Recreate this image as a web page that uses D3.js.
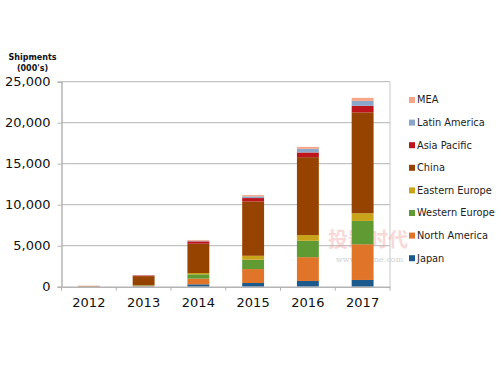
<!DOCTYPE html>
<html><head><meta charset="utf-8">
<script src="https://cdn.jsdelivr.net/npm/d3@7"></script>
<style>body{margin:0;background:#fff}svg{display:block}</style>
</head><body><svg id="c" width="500" height="375"></svg>
<script>
const years = ["2012","2013","2014","2015","2016","2017"];
const regions = ["Japan","North America","Western Europe","Eastern Europe","China","Asia Pacific","Latin America","MEA"];
const colors = ["#1c5a8e","#e0752a","#5f9a33","#c9a31a","#974300","#be141c","#8aa6c8","#f6a586"];
const japan         = [0, 40, 290, 450, 700, 820];
const northAmerica  = [60, 60, 690, 1700, 2900, 4350];
const westernEurope = [10, 60, 530, 1140, 2000, 2850];
const easternEurope = [0, 20, 160, 480, 700, 940];
const china         = [20, 1110, 3570, 6630, 9500, 12300];
const asiaPacific   = [10, 80, 290, 410, 570, 800];
const latinAmerica  = [0, 20, 80, 200, 440, 600];
const mea           = [10, 20, 90, 160, 240, 370];
const yTicks = [0, 5000, 10000, 15000, 20000, 25000];
const seriesVals = [japan, northAmerica, westernEurope, easternEurope, china, asiaPacific, latinAmerica, mea];

const table = years.map((y,i)=>{const o={year:y}; regions.forEach((r,j)=>o[r]=seriesVals[j][i]); return o;});
const stack = d3.stack().keys(regions)(table);

const svg = d3.select("#c");
const L=61.5, R=390, T=81.7, B=286.7;
const x = d3.scaleBand().domain(years).range([L,R]).paddingInner(0.6).paddingOuter(0.3);
const y = d3.scaleLinear().domain([0,25000]).range([B,T]);
const color = d3.scaleOrdinal().domain(regions).range(colors);

// gridlines
svg.append("g").selectAll("line").data(yTicks.slice(1)).join("line")
  .attr("x1",L).attr("x2",R).attr("y1",d=>y(d)).attr("y2",d=>y(d))
  .attr("stroke","#b4b4b4").attr("stroke-width",1);
// right border
svg.append("line").attr("x1",R).attr("x2",R).attr("y1",T).attr("y2",B).attr("stroke","#c8c8c8");

// watermark
svg.append("text").attr("x",328).attr("y",247).attr("font-family","Noto Sans CJK SC").attr("font-size",20)
  .attr("fill","#f2a0a0").attr("opacity",0.4).attr("font-weight","bold").text("投影时代");
svg.append("text").attr("x",336).attr("y",262).attr("font-family","DejaVu Serif").attr("font-size",8)
  .attr("fill","#bbb").attr("opacity",0.7).text("www.pjtime.com");

// bars
svg.append("g").selectAll("g").data(stack).join("g").attr("fill",d=>color(d.key))
  .selectAll("rect").data(d=>d).join("rect")
  .attr("x",d=>x(d.data.year)).attr("width",x.bandwidth())
  .attr("y",d=>y(d[1])).attr("height",d=>Math.max(0,y(d[0])-y(d[1])));

// y axis
const yAxis = svg.append("g").attr("transform",`translate(${L},0)`)
  .call(d3.axisLeft(y).tickValues(yTicks).tickSize(4).tickFormat(d3.format(",")));
yAxis.select(".domain").attr("stroke","#b4b4b4").attr("stroke-width",1.5);
yAxis.selectAll(".tick line").attr("stroke","#b4b4b4");
yAxis.selectAll("text").attr("font-family","DejaVu Sans").attr("font-size",13).attr("fill","#111").attr("x",-11);

// x axis
const xAxis = svg.append("g").attr("transform",`translate(0,${B})`)
  .call(d3.axisBottom(x).tickSize(0));
xAxis.select(".domain").attr("stroke","#b4b4b4").attr("stroke-width",1.5);
xAxis.selectAll("text").attr("font-family","DejaVu Sans").attr("font-size",13).attr("fill","#111").attr("dy","1.35em");
const step = x.step();
const bounds = d3.range(years.length+1).map(i=>L+i*step);
svg.append("g").selectAll("line").data(bounds).join("line")
  .attr("x1",d=>d).attr("x2",d=>d).attr("y1",B).attr("y2",B+4).attr("stroke","#b4b4b4");

// axis title
svg.append("text").attr("x",32.5).attr("y",59.5).attr("text-anchor","middle")
  .attr("font-family","DejaVu Sans").attr("font-weight","bold").attr("font-size",8).attr("fill","#111").text("Shipments");
svg.append("text").attr("x",32.5).attr("y",70.5).attr("text-anchor","middle")
  .attr("font-family","DejaVu Sans").attr("font-weight","bold").attr("font-size",8).attr("fill","#111").text("(000's)");

// legend
const legendOrder = regions.slice().reverse();
const lg = svg.append("g").selectAll("g").data(legendOrder).join("g")
  .attr("transform",(d,i)=>`translate(409,${100+i*22.6})`);
lg.append("rect").attr("x",0).attr("y",-3).attr("width",6).attr("height",6).attr("fill",d=>color(d));
lg.append("text").attr("x",8).attr("y",0).attr("dy","0.35em").attr("font-family","DejaVu Sans")
  .attr("font-size",9.8).attr("fill","#222").text(d=>d);
</script></body></html>
